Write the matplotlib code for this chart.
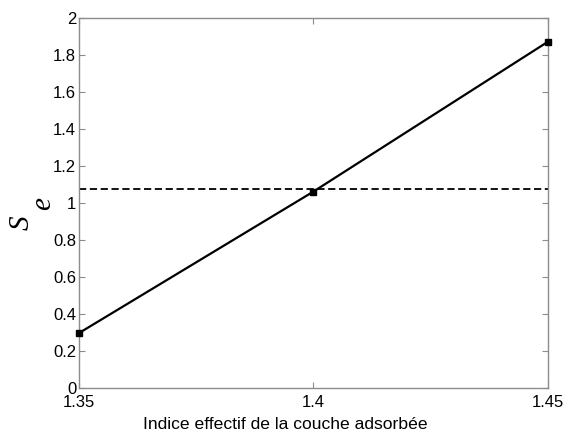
import matplotlib
matplotlib.use("Agg")
import matplotlib.pyplot as plt

# Data
indice = [1.35, 1.40, 1.45]
se_values = [0.297, 1.062, 1.872]
seuil = 1.076

xticks = [1.35, 1.4, 1.45]
xtick_labels = ['1.35', '1.4', '1.45']
yticks = [0, 0.2, 0.4, 0.6, 0.8, 1, 1.2, 1.4, 1.6, 1.8, 2]
ytick_labels = ['0', '0.2', '0.4', '0.6', '0.8', '1', '1.2', '1.4', '1.6', '1.8', '2']

plt.rcParams['font.family'] = ['Liberation Sans', 'DejaVu Sans']

W, H = 566, 432
fig = plt.figure(figsize=(W / 100, H / 100), dpi=100)
ax = fig.add_axes([79 / W, 1 - 388 / H, (548 - 79) / W, (388 - 18) / H])

ax.plot(indice, se_values, color='black', linewidth=1.6, marker='s',
        markersize=5, markerfacecolor='black', zorder=3, clip_on=False)
ax.axhline(seuil, color='black', linestyle='--', linewidth=1.3,
           dashes=(4, 2), zorder=2)

ax.set_xlim(1.35, 1.45)
ax.set_ylim(0, 2)
ax.set_xticks(xticks)
ax.set_xticklabels(xtick_labels)
ax.set_yticks(yticks)
ax.set_yticklabels(ytick_labels)

for sp in ax.spines.values():
    sp.set_color('#8c8c8c')
    sp.set_linewidth(1.0)
ax.tick_params(direction='in', length=4, color='#8c8c8c', labelsize=12,
               labelcolor='black', top=True, right=True)
ax.tick_params(axis='x', pad=5)
ax.tick_params(axis='y', pad=2)

ax.set_xlabel('Indice effectif de la couche adsorbée', fontsize=12.6)
ax.xaxis.set_label_coords((285 - 79) / 469, -0.078)

# y label S_e, MATLAB style (both letters same size, e shifted)
fig.text(22 / W, 1 - 223 / H, 'S', rotation=90, fontsize=21, style='italic',
         family='Liberation Serif', ha='center', va='center')
fig.text(43 / W, 1 - 204 / H, 'e', rotation=90, fontsize=21, style='italic',
         family='Liberation Serif', ha='center', va='center')

fig.savefig('out.png', dpi=100)
